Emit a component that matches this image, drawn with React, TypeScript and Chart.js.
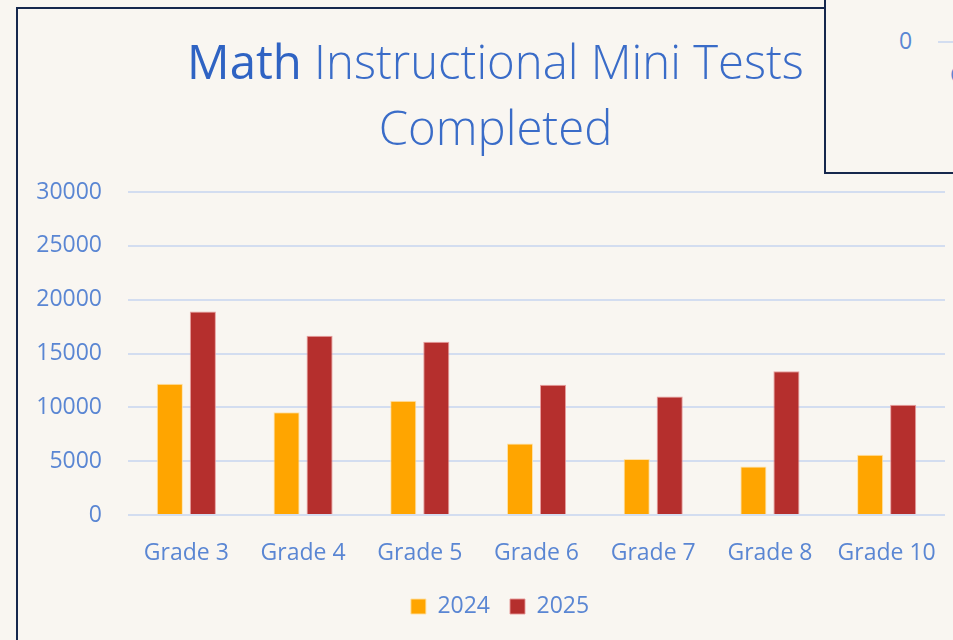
import React, { useEffect, useRef } from "react";
import { Chart, registerables } from "chart.js";

Chart.register(...registerables);

const categories = ["Grade 3", "Grade 4", "Grade 5", "Grade 6", "Grade 7", "Grade 8", "Grade 10"];
const values2024 = [12200, 9550, 10600, 6650, 5200, 4500, 5600];
const values2025 = [18900, 16650, 16100, 12100, 11000, 13350, 10250];
const seriesLabels = ["2024", "2025"];
const yTicks = [0, 5000, 10000, 15000, 20000, 25000, 30000];

const BG = "#f9f6f1";
const NAVY = "#16284d";
const TICK = "#5a86d3";
const GRID = "#d3ddf0";
const FONT = "'Open Sans', 'Noto Sans', sans-serif";

const legendShift = {
  id: "legendShift",
  afterLayout(chart: any) {
    const lg = chart.legend;
    if (lg) {
      lg.left += 18.5;
      lg.right += 18.5;
    }
  },
};

export default function App() {
  const canvasRef = useRef<HTMLCanvasElement | null>(null);

  useEffect(() => {
    const canvas = canvasRef.current;
    if (!canvas) return;
    const chart = new Chart(canvas, {
      type: "bar",
      data: {
        labels: categories,
        datasets: [
          {
            label: seriesLabels[0],
            data: values2024,
            backgroundColor: "#ffa500",
            borderColor: "rgba(255,224,160,0.9)",
            borderWidth: 1,
            categoryPercentage: 0.566,
            barPercentage: 0.79,
          },
          {
            label: seriesLabels[1],
            data: values2025,
            backgroundColor: "#b52f2d",
            borderColor: "rgba(230,150,150,0.9)",
            borderWidth: 1,
            categoryPercentage: 0.566,
            barPercentage: 0.79,
          },
        ],
      },
      plugins: [legendShift],
      options: {
        responsive: false,
        animation: false,
        maintainAspectRatio: false,
        layout: { padding: { left: 0, right: 37, top: 192, bottom: 72 } },
        plugins: {
          title: { display: false },
          tooltip: { enabled: false },
          legend: {
            position: "bottom",
            labels: {
              boxWidth: 15,
              boxHeight: 15,
              color: TICK,
              padding: 20,
              font: { family: FONT, size: 23 },
            },
          },
        },
        scales: {
          x: {
            afterFit: (scale: any) => {
              scale.height = 60;
            },
            grid: { display: false, drawTicks: false },
            border: { display: false },
            ticks: { color: TICK, font: { family: FONT, size: 23 }, padding: 25, maxRotation: 0 },
          },
          y: {
            min: 0,
            max: 30000,
            afterFit: (scale: any) => {
              scale.width = 110;
            },
            afterBuildTicks: (scale: any) => {
              scale.ticks = yTicks.map((v) => ({ value: v }));
            },
            grid: { color: GRID, lineWidth: 2, drawTicks: false },
            border: { display: false },
            ticks: {
              color: TICK,
              font: { family: FONT, size: 23 },
              padding: 26,
              callback: (v: any) => String(v),
            },
          },
        },
      },
    });
    return () => chart.destroy();
  }, []);

  return (
    <div
      style={{
        position: "fixed",
        left: 0,
        top: 0,
        width: 953,
        height: 640,
        overflow: "hidden",
        background: BG,
        fontFamily: FONT,
      }}
    >
      <div
        style={{
          position: "absolute",
          left: 16,
          top: 7,
          width: 1100,
          height: 800,
          borderLeft: `2px solid ${NAVY}`,
          borderTop: `2px solid ${NAVY}`,
          boxSizing: "border-box",
        }}
      />
      <canvas
        ref={canvasRef}
        width={964}
        height={700}
        style={{ position: "absolute", left: 18, top: 0 }}
      />
      <div
        style={{
          position: "absolute",
          left: 0,
          top: 28,
          width: 991,
          textAlign: "center",
          fontSize: 47.3,
          lineHeight: "66px",
          color: "#3a6cc8",
          fontWeight: 300,
          whiteSpace: "nowrap",
        }}
      >
        <span style={{ fontWeight: 400, color: "#2f63c3" }}>Math</span> Instructional Mini Tests
        <br />
        Completed
      </div>
      <div
        style={{
          position: "absolute",
          left: 824,
          top: -4,
          width: 300,
          height: 178,
          borderLeft: `2px solid ${NAVY}`,
          borderBottom: `2px solid ${NAVY}`,
          boxSizing: "border-box",
          background: BG,
          overflow: "hidden",
        }}
      >
        <div
          style={{
            position: "absolute",
            left: 73,
            top: 30,
            fontSize: 23,
            lineHeight: "28px",
            color: TICK,
          }}
        >
          0
        </div>
        <div
          style={{
            position: "absolute",
            left: 112,
            top: 45,
            width: 40,
            height: 2,
            background: GRID,
          }}
        />
        <div
          style={{
            position: "absolute",
            left: 124,
            top: 64,
            fontSize: 23,
            lineHeight: "28px",
            color: TICK,
          }}
        >
          G
        </div>
      </div>
    </div>
  );
}
